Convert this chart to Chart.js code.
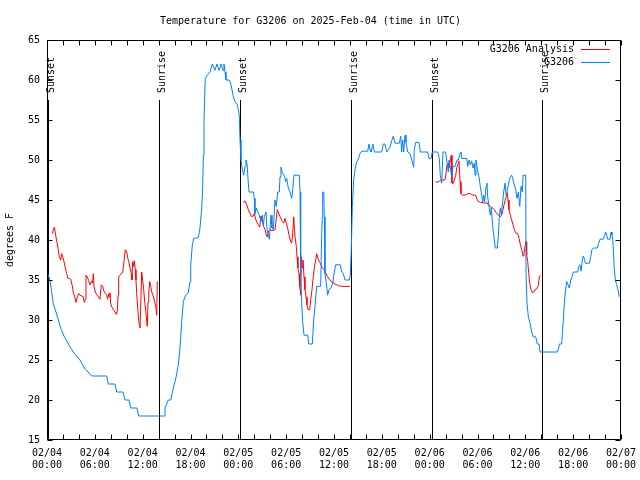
<!DOCTYPE html>
<html>
<head>
<meta charset="utf-8">
<title>Temperature for G3206</title>
<script src="https://cdn.jsdelivr.net/npm/chart.js@4.4.1/dist/chart.umd.min.js"></script>
<style>
html, body { margin: 0; padding: 0; background: #fff; }
#wrap { width: 640px; height: 480px; }
</style>
</head>
<body>
<div id="wrap"><canvas id="tempChart" width="640" height="480"></canvas></div>
<script>
// hours since 02/04 00:00 UTC
var xTickDates = ['02/04', '02/04', '02/04', '02/04', '02/05', '02/05', '02/05', '02/05', '02/06', '02/06', '02/06', '02/06', '02/07'];
var xTickTimes = ['00:00', '06:00', '12:00', '18:00', '00:00', '06:00', '12:00', '18:00', '00:00', '06:00', '12:00', '18:00', '00:00'];

var sunHours = [0.13, 14.05, 24.25, 38.15, 48.33, 62.15];
var sunNames = ['Sunset', 'Sunrise', 'Sunset', 'Sunrise', 'Sunset', 'Sunrise'];

// G3206 observations
var obsHours = [
    0, 0.38, 0.79, 1.13, 1.42, 1.72, 2.13, 2.67, 3.3, 4.14,
    4.68, 5.6, 7.49, 7.69, 8.53, 8.74, 9.53, 9.78, 10.29, 10.5,
    11.29, 11.5, 14.68, 14.8, 15.22, 15.52, 15.84, 16.18, 16.47, 16.68,
    16.9, 17.1, 17.35, 17.72, 17.94, 18.03, 18.23, 18.4, 18.98, 19.19,
    19.41, 19.53, 19.61, 19.69, 19.78, 19.86, 20.11, 20.45, 20.73, 21.07,
    21.32, 21.58, 21.83, 22.08, 22.2, 22.33, 22.45, 22.87, 22.96, 23.17,
    23.37, 23.58, 23.87, 24.12, 24.21, 24.33, 24.5, 24.67, 24.84, 24.96,
    25.09, 25.25, 25.34, 25.88, 26.0, 26.09, 26.25, 26.43, 26.63, 26.84,
    27.01, 27.13, 27.26, 27.47, 27.6, 27.76, 27.89, 28.01, 28.1, 28.22,
    28.39, 28.6, 28.76, 28.94, 29.14, 29.23, 29.35, 29.52, 29.77, 29.94,
    30.07, 30.27, 30.48, 30.69, 30.82, 30.98, 31.65, 31.74, 31.82, 31.95,
    32.07, 32.24, 32.7, 32.83, 33.28, 33.45, 33.62, 33.83, 34.33, 34.46,
    34.53, 34.58, 34.71, 34.78, 34.87, 35.04, 35.21, 35.37, 35.62, 35.84,
    36.04, 36.21, 36.79, 36.97, 37.17, 37.38, 37.92, 38.05, 38.17, 38.3,
    38.47, 38.64, 38.85, 39.05, 39.26, 39.48, 40.23, 40.39, 40.52, 40.64,
    40.89, 41.06, 41.98, 42.19, 42.4, 42.61, 43.02, 43.24, 43.44, 43.65,
    44.19, 44.37, 44.49, 44.62, 44.74, 44.91, 45.03, 45.25, 45.53, 45.75,
    45.87, 46.0, 46.07, 46.25, 46.66, 46.83, 47.75, 47.92, 48.17, 48.33,
    49.01, 49.21, 49.33, 49.51, 49.67, 50.01, 50.18, 50.34, 50.43, 50.59,
    50.77, 50.93, 51.18, 51.43, 51.59, 51.81, 51.93, 52.02, 52.65, 52.77,
    52.94, 53.1, 53.27, 53.44, 53.6, 53.69, 53.81, 53.98, 54.19, 54.35,
    54.53, 54.65, 54.78, 54.9, 55.07, 55.19, 55.28, 55.44, 55.61, 55.73,
    55.91, 56.07, 56.23, 56.48, 56.61, 56.73, 56.86, 56.99, 57.16, 57.29,
    57.45, 57.61, 57.79, 57.95, 58.12, 58.29, 58.46, 58.62, 58.79, 58.96,
    59.12, 59.3, 59.46, 59.62, 59.71, 60.05, 60.09, 60.21, 60.38, 60.59,
    60.8, 61.0, 61.3, 61.5, 61.72, 61.84, 64.01, 64.19, 64.26, 64.56,
    64.64, 64.77, 64.89, 65.02, 65.19, 65.36, 65.52, 65.7, 65.86, 66.02,
    66.57, 66.7, 66.86, 66.99, 67.15, 67.28, 67.4, 67.53, 68.03, 68.2,
    68.36, 68.53, 69.03, 69.2, 69.37, 69.78, 69.96, 70.08, 70.21, 70.33,
    70.62, 70.75, 70.87, 70.96, 71.04, 71.16, 71.29, 71.46, 71.62, 71.79
];
var obsTemps = [
    36, 35, 32, 31, 30, 29, 28, 27, 26, 25,
    24, 23, 23, 22, 22, 21, 21, 20, 20, 19,
    19, 18, 18, 19, 20, 20, 21.5, 22.8, 24.4, 26.5,
    29.8, 32.3, 33, 33.4, 34.8, 36.9, 39.4, 40.2, 40.3, 41.5,
    44, 46.5, 50.6, 54.8, 58.1, 60.2, 60.6, 61, 62, 61.2,
    62, 61.2, 62, 61.2, 62, 61, 60, 60, 59.8, 59,
    57.9, 57.3, 56.9, 55.6, 52.5, 50.1, 48.8, 48.1, 49.2, 50,
    49.6, 47.1, 46, 46, 45.2, 43.3, 44, 43.5, 43.1, 42.3,
    43.1, 41.7, 42.9, 43.5, 41.3, 40.6, 40.1, 41.9, 43.1, 41.5,
    41.3, 45, 44.2, 46, 46, 47.9, 49.1, 48.3, 48.1, 47.3,
    47.7, 46.5, 46, 45.2, 46.3, 48.1, 48.1, 46, 35.8, 32.1,
    29.8, 28.1, 28.1, 27, 27, 30, 31.7, 34.2, 34.2, 40.8,
    42.9, 46, 46, 42.9, 35.8, 34.6, 33.1, 33.8, 34, 34.6,
    36, 36.9, 36.9, 36, 35.8, 35, 35, 35.6, 38.8, 44.2,
    47.5, 48.8, 49.8, 50.1, 50.8, 51.1, 51.1, 52, 51.3, 51,
    52, 51, 51, 52, 52, 51, 51.6, 52.4, 53, 52.1,
    52.1, 53, 51, 52.5, 51, 53.1, 52.2, 51, 50.8, 50,
    49.6, 49.1, 51.3, 52.2, 52.2, 51, 51, 50.2, 50.2, 51,
    51, 50.2, 48.1, 47.1, 51, 51, 49.6, 48.5, 50, 49,
    47.9, 49.2, 49.2, 50, 50, 50.8, 51, 50.2, 50.2, 49.2,
    50, 49.4, 49.9, 49, 49.6, 48.1, 50, 48.8, 47.9, 46.7,
    45.6, 44.6, 45.6, 44.8, 46.7, 47.1, 45.4, 44.2, 43.1, 44,
    41.7, 40.4, 39, 39, 40.4, 42.7, 44, 43.1, 44.8, 46,
    47.1, 45.6, 46.5, 47.3, 47.9, 48.1, 47.5, 46.9, 46.3, 45.2,
    46, 44.2, 46.7, 46, 48.1, 48.1, 35.8, 32.1, 30.4, 29.6,
    28.5, 27.9, 27.9, 27, 27, 26, 26, 26.5, 27, 27,
    28.3, 30, 32.1, 33.5, 34.8, 34.4, 34, 35, 35.4, 36,
    36, 36.7, 36.9, 36.1, 37.5, 38, 37.7, 37.1, 37.1, 37.9,
    38.8, 39, 39, 39.6, 40.1, 40.1, 40.6, 41, 40.6, 40.1,
    40.1, 41, 40.6, 40.1, 38.8, 36.3, 35, 34.4, 33.8, 32.9
];

// G3206 Analysis (night-time only, null = gap)
var anaHours = [
    0.66, 0.79, 0.92, 1.09, 1.22, 1.38, 1.54, 1.72, 1.84, 1.97,
    2.13, 2.3, 2.47, 2.63, 2.8, 2.97, 3.14, 3.3, 3.47, 3.64,
    3.8, 3.98, 4.14, 4.35, 4.55, 4.68, 4.8, 4.89, 5.06, 5.23,
    5.39, 5.61, 5.73, 5.81, 5.9, 6.06, 6.23, 6.44, 6.65, 6.81,
    6.99, 7.15, 7.31, 7.49, 7.61, 7.74, 7.81, 7.9, 7.99, 8.15,
    8.32, 8.53, 8.69, 8.82, 8.91, 8.99, 9.24, 9.5, 9.66, 9.82,
    10.0, 10.12, 10.25, 10.41, 10.57, 10.66, 10.75, 10.88, 10.95, 11.08,
    11.16, 11.25, 11.38, 11.5, 11.67, 11.79, 11.88, 12.0, 12.13, 12.26,
    12.38, 12.51, 12.58, 12.67, 12.76, 12.88, 13.01, 13.17, 13.33, 13.51,
    13.64, 13.76, 13.84, 19.0,
    24.62, 24.84, 25.05, 25.25, 25.46, 25.68, 25.84, 26.0, 26.18, 26.34,
    26.51, 26.68, 26.84, 27.01, 27.18, 27.35, 27.51, 27.63, 27.76, 27.94,
    28.1, 28.44, 28.6, 28.76, 28.89, 29.01, 29.19, 29.35, 29.52, 29.69,
    29.85, 30.02, 30.19, 30.36, 30.52, 30.69, 30.82, 30.95, 31.02, 31.11,
    31.27, 31.36, 31.48, 31.61, 31.7, 31.82, 31.9, 32.02, 32.11, 32.24,
    32.36, 32.49, 32.61, 32.74, 32.95, 33.08, 33.24, 33.4, 33.58, 33.71,
    33.83, 33.99, 34.16, 34.33, 34.53, 34.78, 35.0, 35.21, 35.41, 35.62,
    35.88, 36.13, 36.54, 36.97, 38.01, 43.0,
    48.76, 48.92, 49.08, 49.33, 49.51, 49.92, 50.05, 50.18, 50.34, 50.46,
    50.59, 50.72, 50.8, 50.97, 51.09, 51.27, 51.39, 51.52, 51.68, 51.81,
    51.93, 52.09, 52.43, 52.77, 53.1, 53.44, 53.78, 53.94, 54.1, 54.44,
    54.94, 55.16, 55.36, 55.57, 55.7, 55.91, 56.11, 56.36, 56.61, 56.82,
    57.03, 57.2, 57.33, 57.45, 57.61, 57.74, 57.83, 57.95, 58.12, 58.29,
    58.46, 58.62, 58.79, 59.04, 59.21, 59.38, 59.55, 59.71, 59.83, 59.96,
    60.09, 60.17, 60.3, 60.43, 60.55, 60.71, 60.88, 61.05, 61.21, 61.43,
    61.63, 61.76, 61.96
];
var anaTemps = [
    40.8, 41.3, 41.6, 40.6, 39.8, 39, 37.9, 37.5, 38.3, 37.9,
    37.3, 36.5, 35.8, 35.2, 35.2, 35.1, 34.4, 33.5, 32.9, 32.2,
    32.9, 33.3, 33.1, 33, 32.9, 32.2, 32.6, 35.6, 35.4, 34.9,
    34.4, 34.9, 34.6, 35.8, 34.2, 33.5, 33.2, 32.9, 32.6, 34.4,
    34.2, 33.6, 33.3, 33.1, 32.6, 33.3, 32.9, 33.4, 32, 31.6,
    31.3, 31, 30.7, 31.1, 33.1, 35.4, 35.7, 36, 37.3, 38.8,
    38.5, 37.8, 37.3, 36.5, 35.8, 35, 37.3, 36.7, 37.4, 36.3,
    35, 33.3, 31.5, 29.9, 29, 29, 36, 35, 33.8, 32.2,
    31.2, 29.8, 29.2, 32.2, 33.4, 34.8, 34.2, 33.4, 33, 32.2,
    31.7, 30.6, 34.8, null,
    44.7, 44.9, 44.4, 43.8, 43.3, 42.9, 43, 43.3, 42.6, 42.2,
    41.9, 41.6, 43, 42.5, 41.7, 41.3, 40.6, 40.4, 41, 41.3,
    41.2, 41.2, 41.3, 42.7, 43.8, 43.5, 43, 42.7, 42.3, 42.1,
    42.7, 42.1, 41.5, 40.6, 40, 39.6, 40.8, 42.9, 41.7, 40.4,
    39.2, 37.9, 36.5, 35.8, 34.2, 33.1, 37.9, 36.5, 37.5, 35.4,
    33.8, 32.9, 31.9, 31.3, 31.3, 32.5, 33.8, 35.4, 36.9, 37.5,
    38.3, 37.7, 37.3, 37, 36.5, 36.3, 35.8, 35.4, 35.1, 34.8,
    34.7, 34.5, 34.3, 34.2, 34.2, null,
    47.3, 47.2, 47.3, 47.4, 47.5, 47.5, 48.3, 49.4, 49.6, 49,
    50, 50.6, 47.1, 47.1, 47.5, 48.1, 49, 49.4, 49.9, 47.3,
    45.8, 45.6, 45.6, 45.8, 45.8, 45.6, 45.6, 45.1, 44.8, 44.7,
    44.6, 44.7, 44.4, 44.2, 44.1, 44, 43.8, 43.4, 43.1, 42.9,
    43.1, 43.8, 44.4, 44.9, 45.4, 45.9, 45, 43.8, 43.1, 42.5,
    41.9, 41.3, 40.9, 40.8, 40.2, 39.4, 38.8, 38, 38.3, 39.2,
    39.8, 38.1, 37.3, 35.8, 34.6, 33.8, 33.4, 33.5, 33.8, 33.9,
    34.3, 35.4, 35.6
];

var seriesNames = ['G3206 Analysis', 'G3206'];
var seriesColors = ['#ff0000', '#0080ff'];

function toPoints(xs, ys) {
    return xs.map(function(x, i) { return { x: x, y: ys[i] }; });
}

Chart.defaults.font.family = '"DejaVu Sans Mono", monospace';
Chart.defaults.font.size = 10;
Chart.defaults.color = '#000';

// frame, inward ticks, sunrise/sunset markers and legend (gnuplot style)
var gnuplotLook = {
    id: 'gnuplotLook',
    beforeDatasetsDraw: function(chart) {
        var ctx = chart.ctx, area = chart.chartArea;
        var xs = chart.scales.x, ys = chart.scales.y;
        var top = Math.round(ys.getPixelForValue(57.5));
        ctx.save();
        ctx.strokeStyle = '#000';
        ctx.fillStyle = '#000';
        ctx.lineWidth = 1;
        ctx.font = '10px "DejaVu Sans Mono", monospace';
        sunHours.forEach(function(h, i) {
            var x = Math.round(xs.getPixelForValue(h)) + 0.5;
            ctx.beginPath();
            ctx.moveTo(x, top);
            ctx.lineTo(x, area.bottom);
            ctx.stroke();
            ctx.save();
            ctx.translate(x + 2.5, top - 7);
            ctx.rotate(-Math.PI / 2);
            ctx.textAlign = 'left';
            ctx.textBaseline = 'middle';
            ctx.fillText(sunNames[i], 0, 0);
            ctx.restore();
        });
        ctx.restore();
    },
    afterDatasetsDraw: function(chart) {
        var ctx = chart.ctx, a = chart.chartArea;
        var xs = chart.scales.x, ys = chart.scales.y;
        var L = Math.round(a.left) + 0.5, R = Math.round(a.right) - 0.5;
        var T = Math.round(a.top) + 0.5, B = Math.round(a.bottom) - 0.5;
        ctx.save();
        ctx.strokeStyle = '#000';
        ctx.lineWidth = 1;
        ctx.beginPath();
        ctx.rect(L, T, R - L, B - T);
        // y ticks, both sides
        for (var v = 15; v <= 65; v += 5) {
            var y = Math.round(ys.getPixelForValue(v)) + 0.5;
            ctx.moveTo(L, y); ctx.lineTo(L + 5, y);
            ctx.moveTo(R, y); ctx.lineTo(R - 5, y);
        }
        // x ticks every 2 hours, bottom and top
        for (var h = 0; h <= 72; h += 2) {
            var x = Math.round(xs.getPixelForValue(h)) + 0.5;
            ctx.moveTo(x, B); ctx.lineTo(x, B - 5);
            ctx.moveTo(x, T); ctx.lineTo(x, T + 5);
        }
        ctx.stroke();

        // legend, text right-aligned with line sample on the right
        ctx.font = '10px "DejaVu Sans Mono", monospace';
        ctx.fillStyle = '#000';
        ctx.textAlign = 'right';
        ctx.textBaseline = 'middle';
        seriesNames.forEach(function(name, i) {
            var ly = 49.5 + i * 13;
            ctx.fillText(name, 574, ly);
            ctx.strokeStyle = seriesColors[i];
            ctx.beginPath();
            ctx.moveTo(581, ly);
            ctx.lineTo(610, ly);
            ctx.stroke();
        });
        ctx.restore();
    }
};

var ctxTemp = document.getElementById('tempChart').getContext('2d');
var tempChart = new Chart(ctxTemp, {
    type: 'line',
    data: {
        datasets: [{
            label: seriesNames[0],
            data: toPoints(anaHours, anaTemps),
            borderColor: seriesColors[0],
            borderWidth: 1,
            pointRadius: 0,
            tension: 0,
            spanGaps: false,
            fill: false,
            order: 2
        }, {
            label: seriesNames[1],
            data: toPoints(obsHours, obsTemps),
            borderColor: seriesColors[1],
            borderWidth: 1,
            pointRadius: 0,
            tension: 0,
            fill: false,
            order: 1
        }]
    },
    options: {
        responsive: false,
        animation: false,
        devicePixelRatio: 1,
        layout: { padding: { left: 0, right: 19, top: 0, bottom: 0 } },
        plugins: {
            legend: { display: false },
            tooltip: { enabled: false },
            title: {
                display: true,
                text: 'Temperature for G3206 on 2025-Feb-04 (time in UTC)',
                color: '#000',
                font: { size: 10, weight: 'normal', lineHeight: 1.2 },
                padding: { top: 15, bottom: 13 }
            }
        },
        scales: {
            x: {
                type: 'linear',
                min: 0,
                max: 72,
                grid: { display: false, drawTicks: false },
                border: { display: false },
                afterFit: function(scale) {
                    scale.height = 40;
                    scale.paddingLeft = 0;
                    scale.paddingRight = 0;
                },
                ticks: {
                    stepSize: 6,
                    autoSkip: false,
                    maxRotation: 0,
                    minRotation: 0,
                    padding: 7,
                    color: '#000',
                    font: { size: 10, lineHeight: 1.2 },
                    callback: function(value) {
                        var i = Math.round(value / 6);
                        return [xTickDates[i], xTickTimes[i]];
                    }
                }
            },
            y: {
                min: 15,
                max: 65,
                grid: { display: false, drawTicks: false },
                border: { display: false },
                afterFit: function(scale) { scale.width = 47; },
                title: {
                    display: true,
                    text: 'degrees F',
                    color: '#000',
                    font: { size: 10, lineHeight: 1.2 },
                    padding: { top: 4, bottom: 4 }
                },
                ticks: {
                    stepSize: 5,
                    padding: 7,
                    color: '#000',
                    font: { size: 10 }
                }
            }
        }
    },
    plugins: [gnuplotLook]
});
</script>
</body>
</html>
